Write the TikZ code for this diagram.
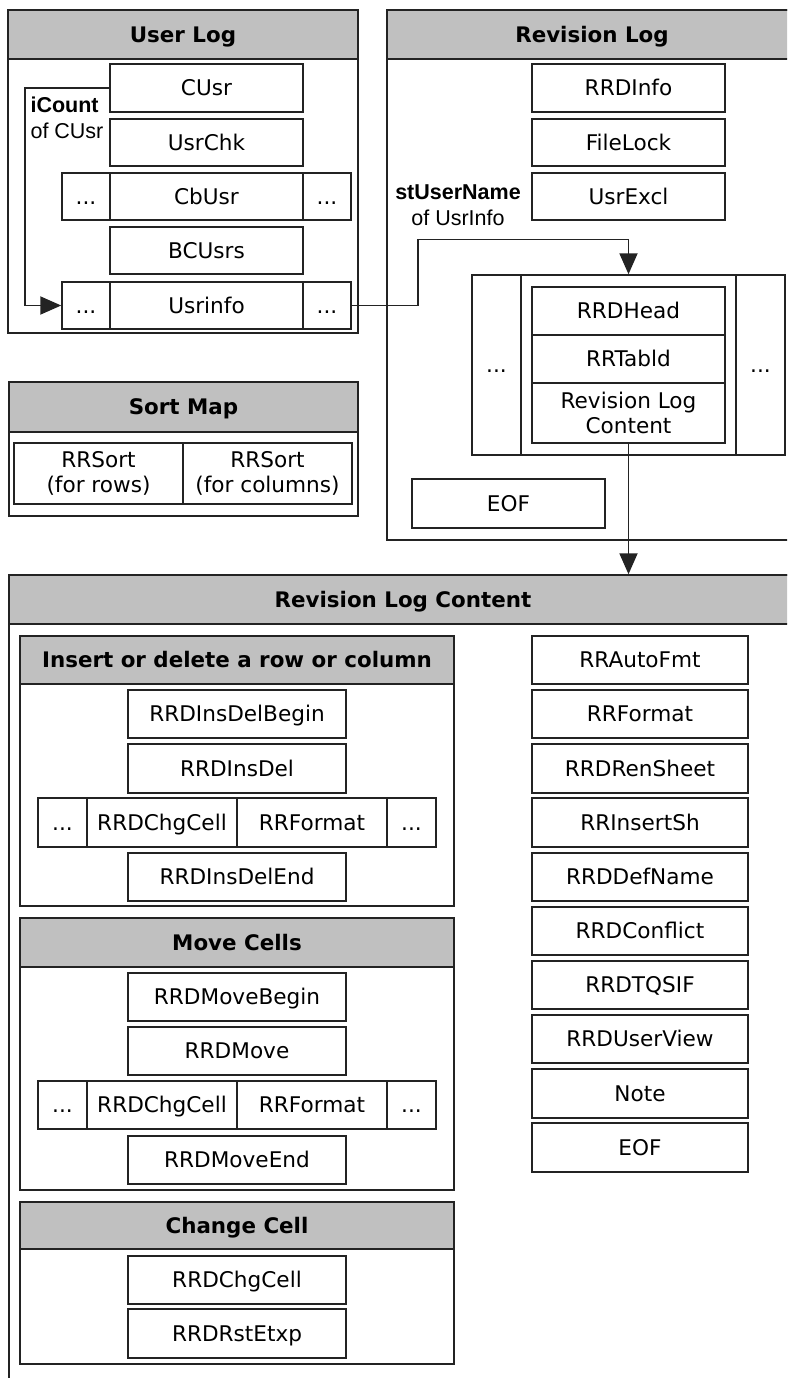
\documentclass[tikz,border=0pt]{standalone}
\usepackage{fontspec}
\setmainfont{DejaVu Sans}
\newfontfamily\arialf{Liberation Sans}
\usetikzlibrary{arrows.meta}
\definecolor{hdr}{RGB}{192,192,192}
\definecolor{ln}{RGB}{35,35,35}
\tikzset{
 box/.style={draw=ln, line width=1.5pt, fill=white, inner sep=0pt, text height=15.5pt, text depth=0pt, font=\fontsize{21.6}{25}\selectfont},
 box2/.style={draw=ln, line width=1.5pt, fill=white, inner sep=0pt, align=center, font=\fontsize{21.6}{25.5}\selectfont},
 grp/.style={draw=ln, line width=1.5pt, fill=white, inner sep=0pt},
 hdrbox/.style={draw=ln, line width=1.5pt, fill=hdr, inner sep=0pt, text height=15.5pt, text depth=0pt, font=\fontsize{21.4}{25}\selectfont\bfseries},
 lbl/.style={inner sep=0pt, align=center, font=\fontsize{21.5}{26}\selectfont\arialf},
 arr/.style={draw=ln, line width=1.9pt, -{Triangle[length=21pt,width=18pt]}},
}
\newcommand\rb[7][box]{\node[#1, minimum width={(#5-#3)*1pt}, minimum height={(#6-#4)*1pt}] (#2) at ({(#3+#5)/2},{(#4+#6)/2}) {#7};}
\begin{document}
\begin{tikzpicture}[x=1pt,y=-1pt]
\useasboundingbox (0,0) rectangle (787,1378);
\fill[white] (0,0) rectangle (787,1378);
\clip (0,0) rectangle (787,1378);
% User Log
\rb[grp]{ul}{8}{10}{358}{333}{}
\rb[hdrbox]{ulh}{8}{10}{358}{59}{User Log}
\rb{cusr}{110}{64}{303}{112}{CUsr}
\rb{usrchk}{110}{119}{303}{166}{UsrChk}
\rb{cbl}{62}{173}{110}{220}{...}
\rb{cbusr}{110}{173}{303}{220}{CbUsr}
\rb{cbr}{303}{173}{351}{220}{...}
\rb{bcusrs}{110}{227}{303}{274}{BCUsrs}
\rb{uil}{62}{282}{110}{329}{...}
\rb{uinfo}{110}{282}{303}{329}{Usrinfo}
\rb{uir}{303}{282}{351}{329}{...}
\node[lbl, align=left] (icount) at (67,118) {\textbf{iCount}\\of CUsr};
% Revision Log
\rb[grp]{rl}{387}{10}{797}{540}{}
\rb[hdrbox]{rlh}{387}{10}{797}{59}{Revision Log}
\rb{rrdinfo}{532}{64}{725}{112}{RRDInfo}
\rb{filelock}{532}{119}{725}{166}{FileLock}
\rb{usrexcl}{532}{173}{725}{220}{UsrExcl}
\node[lbl] (stuser) at (458,205) {\textbf{stUserName}\\of UsrInfo};
\rb[grp]{rep}{472}{275}{785}{455}{}
\rb{repl}{472}{275}{521}{455}{...}
\rb{repm}{521}{275}{736}{455}{}
\rb{repr}{736}{275}{785}{455}{...}
\rb{rrdhead}{532}{287}{725}{335}{RRDHead}
\rb{rrtabld}{532}{335}{725}{383}{RRTabld}
\rb[box2]{rlc}{532}{383}{725}{443}{Revision Log\\Content}
\rb{eofa}{412}{479}{605}{528}{EOF}
% Sort Map
\rb[grp]{sm}{9}{382}{358}{516}{}
\rb[hdrbox]{smh}{9}{382}{358}{432}{Sort Map}
\rb[box2]{srow}{14}{443}{183}{504}{RRSort\\(for rows)}
\rb[box2]{scol}{183}{443}{352}{504}{RRSort\\(for columns)}
% Revision Log Content
\rb[grp]{rlcb}{9}{575}{797}{1400}{}
\rb[hdrbox]{rlcbh}{9}{575}{797}{624}{Revision Log Content}
% Insert or delete
\rb[grp]{ins}{20}{636}{454}{906}{}
\rb[hdrbox]{insh}{20}{636}{454}{684}{Insert or delete a row or column}
\rb{idb}{128}{690}{346}{738}{RRDInsDelBegin}
\rb{idd}{128}{744}{346}{793}{RRDInsDel}
\rb{idl}{38}{798}{87}{847}{...}
\rb{idc}{87}{798}{237}{847}{RRDChgCell}
\rb{idf}{237}{798}{387}{847}{RRFormat}
\rb{idr}{387}{798}{436}{847}{...}
\rb{ide}{128}{853}{346}{901}{RRDInsDelEnd}
% Move Cells
\rb[grp]{mv}{20}{918}{454}{1190}{}
\rb[hdrbox]{mvh}{20}{918}{454}{967}{Move Cells}
\rb{mvb}{128}{973}{346}{1021}{RRDMoveBegin}
\rb{mvm}{128}{1027}{346}{1075}{RRDMove}
\rb{mvl}{38}{1081}{87}{1129}{...}
\rb{mvc}{87}{1081}{237}{1129}{RRDChgCell}
\rb{mvf}{237}{1081}{387}{1129}{RRFormat}
\rb{mvr}{387}{1081}{436}{1129}{...}
\rb{mve}{128}{1136}{346}{1184}{RRDMoveEnd}
% Change Cell
\rb[grp]{cc}{20}{1202}{454}{1364}{}
\rb[hdrbox]{cch}{20}{1202}{454}{1249}{Change Cell}
\rb{ccc}{128}{1256}{346}{1304}{RRDChgCell}
\rb{ccr}{128}{1309}{346}{1358}{RRDRstEtxp}
% right column
\rb{ra}{532}{636}{748}{684}{RRAutoFmt}
\rb{rb}{532}{690}{748}{738}{RRFormat}
\rb{rc}{532}{744}{748}{793}{RRDRenSheet}
\rb{rd}{532}{798}{748}{847}{RRInsertSh}
\rb{re}{532}{853}{748}{901}{RRDDefName}
\rb{rf}{532}{907}{748}{955}{RRDConflict}
\rb{rg}{532}{961}{748}{1009}{RRDTQSIF}
\rb{rh}{532}{1015}{748}{1063}{RRDUserView}
\rb{ri}{532}{1069}{748}{1118}{Note}
\rb{rj}{532}{1123}{748}{1172}{EOF}
% connectors
\draw[arr] (cusr.west) -- ++(-84,0) |- (uil.west);
\draw[arr] (uir.east) -- ++(66,0) -- ++(0,-66) -| (rep.north);
\draw[arr] (rlc.south) -- (rlc.south |- rlcbh.north);
\end{tikzpicture}
\end{document}
